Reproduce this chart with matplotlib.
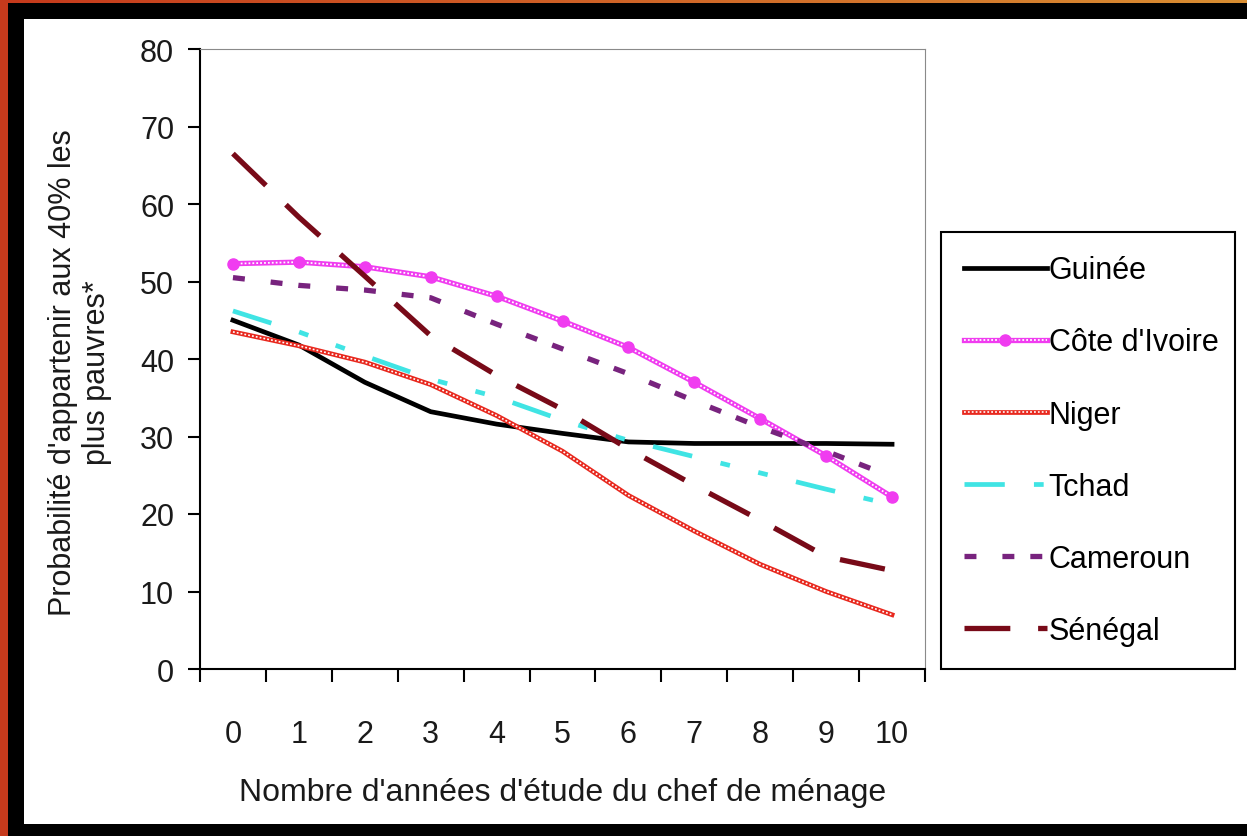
import numpy as np
import matplotlib
matplotlib.use('Agg')
import matplotlib.pyplot as plt
from matplotlib.patches import Rectangle
from matplotlib.colors import LinearSegmentedColormap
from matplotlib.ticker import FixedLocator
from matplotlib.legend_handler import HandlerTuple

plt.rcParams['font.family'] = ['Liberation Sans Narrow', 'Liberation Sans', 'DejaVu Sans']
plt.rcParams['lines.scale_dashes'] = False

# Nombre d'années d'étude
years = list(range(11))
year_labels = [str(y) for y in years]

# probabilité (%) par pays
guinee = [45.0, 41.8, 37.0, 33.2, 31.6, 30.4, 29.3, 29.1, 29.1, 29.1, 29.0]
cote_ivoire = [52.3, 52.5, 51.9, 50.6, 48.1, 44.9, 41.5, 37.0, 32.3, 27.5, 22.2]
niger = [43.5, 41.7, 39.6, 36.7, 32.7, 28.1, 22.4, 17.8, 13.5, 10.0, 7.0]
tchad = [46.2, 43.5, 40.4, 37.4, 35.1, 32.1, 29.5, 27.4, 25.3, 23.2, 21.2]
cameroun = [50.5, 49.5, 48.9, 47.9, 44.5, 41.3, 38.1, 34.6, 31.2, 28.1, 24.8]
senegal = [66.5, 58.3, 50.7, 43.0, 37.9, 33.5, 28.4, 23.7, 19.2, 14.5, 12.7]

W, H = 1247, 837
fig = plt.figure(figsize=(W / 100, H / 100), dpi=100, facecolor='black')

# page blanche + bordures
fig.add_artist(Rectangle((24 / W, 12 / H), 1 - 24 / W, 805 / H, transform=fig.transFigure,
                         facecolor='white', edgecolor='none', zorder=-2))
fig.add_artist(Rectangle((0, 0), 8 / W, 1, transform=fig.transFigure,
                         facecolor='#c63a1c', edgecolor='none', zorder=-1))
strip = fig.add_axes([0, 1 - 4 / H, 1, 4 / H])
strip.imshow(np.linspace(0, 1, 256)[None, :], aspect='auto',
             cmap=LinearSegmentedColormap.from_list('bord', ['#c63a1c', '#d98e32']))
strip.axis('off')

ax = fig.add_axes([200 / W, 1 - 670 / H, 725 / W, 620 / H])
ax.set_facecolor('white')

magenta = '#f03cf0'
rouge = '#e8281e'

h_gui, = ax.plot(years, guinee, color='black', lw=3.4)
# lignes "chaînette" : trait coloré + pointillé blanc par-dessus
civ_a, = ax.plot(years, cote_ivoire, color=magenta, lw=3.8)
civ_b, = ax.plot(years, cote_ivoire, color='white', lw=1.3, ls=(0, (1.3, 1.5)),
                 marker='o', ms=8, mfc=magenta, mec=magenta)
nig_a, = ax.plot(years, niger, color=rouge, lw=3.4)
nig_b, = ax.plot(years, niger, color='white', lw=1.2, ls=(0, (1.3, 1.5)))
h_tch, = ax.plot(years, tchad, color='#40e4e4', lw=3.4, ls=(0, (29, 21, 7, 21, 7, 21)))
h_cam, = ax.plot(years, cameroun, color='#78237e', lw=3.8, ls=(0, (8.6, 18.7, 8.6, 11.5)))
h_sen, = ax.plot(years, senegal, color='#780a18', lw=3.8, ls=(0, (33, 20)))

ax.set_xlim(-0.5, 10.5)
ax.set_ylim(0, 80)
ax.set_xticks(years)
ax.set_xticklabels(year_labels)
ax.xaxis.set_minor_locator(FixedLocator(np.arange(-0.5, 11, 1)))
ax.set_yticks(range(0, 81, 10))
ax.tick_params(axis='x', which='major', length=0, pad=36, labelsize=22, labelcolor='#1a1a1a')
ax.tick_params(axis='x', which='minor', length=9, width=1.5, direction='out')
ax.tick_params(axis='y', length=8.6, width=1.5, pad=10, direction='out', labelsize=22, labelcolor='#1a1a1a')

for side in ['left', 'bottom']:
    ax.spines[side].set_linewidth(1.5)
for side in ['top', 'right']:
    ax.spines[side].set_color('#8a8a8a')
    ax.spines[side].set_linewidth(0.8)

ax.set_xlabel("Nombre d'années d'étude du chef de ménage", fontsize=23, color='#1a1a1a', labelpad=20)
ax.set_ylabel("Probabilité d'appartenir aux 40% les\nplus pauvres*", fontsize=22, color='#1a1a1a')
ax.yaxis.set_label_coords(-0.121, 0.48)

handles = [h_gui, (civ_a, civ_b), (nig_a, nig_b), h_tch, h_cam, h_sen]
labels = ['Guinée', "Côte d'Ivoire", 'Niger', 'Tchad', 'Cameroun', 'Sénégal']
leg = ax.legend(handles, labels, loc='upper left',
                bbox_to_anchor=(941 / W, 1 - 672 / H, 294 / W, 439 / H),
                bbox_transform=fig.transFigure, mode='expand', fontsize=22,
                handler_map={tuple: HandlerTuple(ndivide=1, pad=0)},
                handlelength=2.7, handletextpad=0.07, labelspacing=1.38, borderpad=0.76,
                borderaxespad=0, numpoints=1, fancybox=False, framealpha=1)
leg.get_frame().set_edgecolor('black')
leg.get_frame().set_linewidth(1.5)

fig.savefig('out.png', dpi=100, facecolor=fig.get_facecolor())
